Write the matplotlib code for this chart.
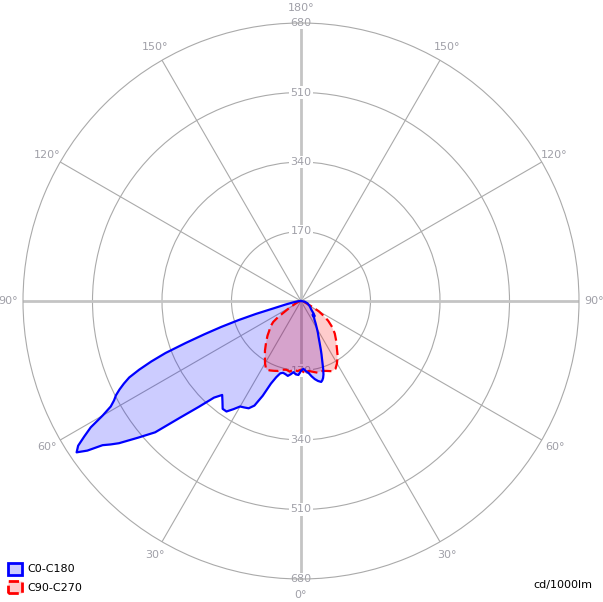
import matplotlib
matplotlib.use('Agg')
import matplotlib.pyplot as plt
import numpy as np
from matplotlib.patches import Patch

# C0-C180 plane, left half (gamma in degrees from nadir, cd/1000lm)
c180_gamma = [0, 2, 4, 6, 8, 10, 12, 14, 16, 18, 20, 22, 24, 26, 28, 30, 32, 34, 36, 38,
              40, 42, 44, 46, 48, 50, 52, 53, 54, 55, 56, 57, 58, 59, 60, 61, 62, 63, 64,
              65, 66, 67, 68, 69, 70, 71, 72, 73, 74, 75, 77, 80, 85, 90]
c180_val = [171, 181, 180, 175, 181, 186, 183, 181, 184, 196, 215, 250, 280, 292, 295, 298,
            312, 326, 326, 312, 300, 318, 360, 410, 480, 520, 565, 583, 600, 638, 662, 650,
            625, 600, 560, 532, 518, 508, 494, 478, 460, 430, 395, 355, 300, 250, 205, 160,
            115, 70, 40, 20, 8, 0]

# C0-C180 plane, right half
c0_gamma = [0, 2, 4, 6, 8, 10, 12, 14, 15, 16, 17, 18, 19, 20, 21, 22, 24, 26, 28, 30, 33,
            36, 38, 40, 42, 45, 50, 55, 60, 70, 80, 90]
c0_val = [171, 166, 172, 177, 186, 194, 200, 204, 201, 196, 188, 176, 162, 150, 140, 130,
          112, 98, 88, 78, 66, 56, 52, 44, 50, 44, 33, 28, 24, 17, 9, 0]

# C90-C270 plane, left half
c270_gamma = [0, 3, 6, 9, 12, 15, 18, 21, 24, 27, 30, 33, 36, 40, 44, 47, 50, 53, 55, 57,
              60, 65, 70, 80, 90]
c270_val = [168, 172, 168, 175, 172, 174, 180, 183, 186, 188, 176, 162, 150, 133, 118, 106,
            98, 85, 68, 46, 30, 16, 10, 4, 0]

# C90-C270 plane, right half
c90_gamma = [0, 3, 6, 9, 13, 16, 20, 24, 27, 30, 34, 38, 42, 46, 50, 54, 57, 60, 62, 66,
             70, 80, 90]
c90_val = [168, 177, 172, 175, 180, 178, 182, 188, 186, 176, 160, 142, 128, 115, 100, 82,
           65, 50, 32, 18, 12, 5, 0]

ring_values = [170, 340, 510, 680]
angle_labels = [0, 30, 60, 90, 120, 150, 180]


def plane_curve(left_gamma, left_val, right_gamma, right_val):
    # left half goes to negative theta, right half to positive theta
    th = np.concatenate([-np.array(left_gamma[::-1], float), np.array(right_gamma[1:], float)])
    r = np.concatenate([np.array(left_val[::-1], float), np.array(right_val[1:], float)])
    return np.radians(th), r


fig = plt.figure(figsize=(6.03, 6.02), dpi=100)
cx, cy, rad = 301 / 603, 1 - 301 / 602, 278
ax = fig.add_axes([cx - rad / 603, cy - rad / 602, 2 * rad / 603, 2 * rad / 602],
                  projection='polar')
ax.set_theta_zero_location('S')
ax.set_theta_direction(1)
ax.set_ylim(0, 680)
ax.set_axisbelow(True)

grid_col = '#aaaaaa'
ax.set_xticks(np.radians([30, 60, 120, 150, 210, 240, 300, 330]))
ax.set_yticks(ring_values[:-1])
ax.set_xticklabels([])
ax.set_yticklabels([])
ax.grid(True, color=grid_col, lw=0.8)
ax.spines['polar'].set_color(grid_col)
ax.spines['polar'].set_linewidth(0.8)
for a in [0, 90, 180, 270]:
    ax.axvline(np.radians(a), color='#c4c4c4', lw=2, zorder=0.6)

txt_col = '#a0a0a8'
for v in ring_values:
    ax.text(np.pi, v, str(v), ha='center', va='center', fontsize=8, color=txt_col,
            zorder=0.8, bbox=dict(facecolor='white', edgecolor='none', pad=1))
    ax.text(0, v, str(v), ha='center', va='center', fontsize=8, color=txt_col,
            zorder=0.8, bbox=dict(facecolor='white', edgecolor='none', pad=1))

for a in angle_labels:
    for sgn in ([1, -1] if a not in (0, 180) else [1]):
        rr = 718 if a == 0 else 716
        ax.text(np.radians(sgn * a), rr, f'{a}°', ha='center', va='center', fontsize=8,
                color=txt_col, clip_on=False)

th_b, r_b = plane_curve(c180_gamma, c180_val, c0_gamma, c0_val)
th_r, r_r = plane_curve(c270_gamma, c270_val, c90_gamma, c90_val)

ax.fill(th_b, r_b, color='blue', alpha=0.2, lw=0, zorder=1)
ax.fill(th_r, r_r, color='red', alpha=0.2, lw=0, zorder=1)
ax.plot(th_r, r_r, color='red', lw=1.6, ls=(0, (4.5, 2)), zorder=2)
ax.plot(th_b, r_b, color='blue', lw=1.6, zorder=3)

handles = [Patch(facecolor=(0.8, 0.8, 1), edgecolor='blue', lw=2),
           Patch(facecolor=(1, 0.8, 0.8), edgecolor='red', lw=2, ls='--')]
fig.legend(handles, ['C0-C180', 'C90-C270'], loc='lower left',
           bbox_to_anchor=(8 / 603, 9 / 602), frameon=False, fontsize=8,
           handlelength=1.3, handleheight=1.3, handletextpad=0.45, labelspacing=0.55,
           borderpad=0, borderaxespad=0)
fig.text(592 / 603, 1 - 585 / 602, 'cd/1000lm', ha='right', va='center', fontsize=8)

fig.savefig('out.png', dpi=100)
